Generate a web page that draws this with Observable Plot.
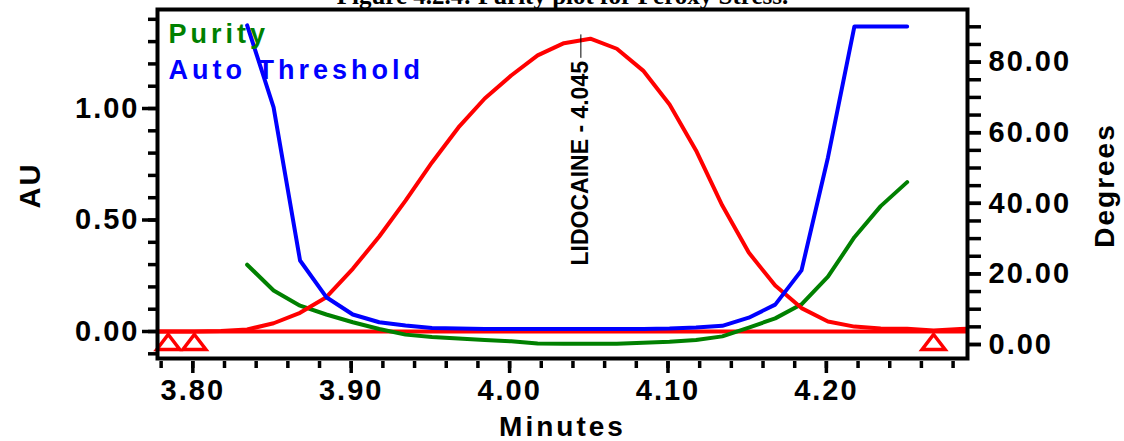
<!DOCTYPE html>
<html><head><meta charset="utf-8">
<script src="https://cdn.jsdelivr.net/npm/d3@7"></script>
<script src="https://cdn.jsdelivr.net/npm/@observablehq/plot@0.6"></script>
<style>
html,body{margin:0;padding:0;background:#fff;overflow:hidden;}
</style></head><body><div id="chart"></div>
<script>
const title = "Figure 4.2.4: Purity plot for Peroxy Stress.";
const xLabel = "Minutes", yLabelLeft = "AU", yLabelRight = "Degrees";
const legendNames = ["Purity", "Auto Threshold"];

// chromatogram (AU, left axis)
const redTimes = [3.7677, 3.7843, 3.8010, 3.8177, 3.8343, 3.8510, 3.8677, 3.8843, 3.9010, 3.9177, 3.9343, 3.9510, 3.9677, 3.9843, 4.0010, 4.0177, 4.0343, 4.0510, 4.0677, 4.0843, 4.1010, 4.1177, 4.1343, 4.1510, 4.1677, 4.1843, 4.2010, 4.2177, 4.2343, 4.2510, 4.2677, 4.2843, 4.3010];
const redAU = [0.000, 0.000, 0.000, 0.002, 0.009, 0.037, 0.084, 0.154, 0.281, 0.426, 0.587, 0.758, 0.915, 1.045, 1.148, 1.238, 1.293, 1.313, 1.268, 1.170, 1.018, 0.812, 0.565, 0.354, 0.206, 0.105, 0.045, 0.022, 0.013, 0.012, 0.005, 0.011, 0.015];

// purity & threshold (Degrees, right axis)
const purityTimes = [3.8343, 3.8510, 3.8677, 3.8843, 3.9010, 3.9177, 3.9343, 3.9510, 3.9677, 3.9843, 4.0010, 4.0177, 4.0343, 4.0510, 4.0677, 4.0843, 4.1010, 4.1177, 4.1343, 4.1510, 4.1677, 4.1843, 4.2010, 4.2177, 4.2343, 4.2510];
const purityDeg = [22.6, 15.3, 11.0, 8.5, 6.3, 4.4, 2.8, 2.1, 1.7, 1.3, 0.9, 0.3, 0.2, 0.2, 0.2, 0.5, 0.8, 1.3, 2.3, 4.8, 7.4, 11.4, 19.2, 30.4, 39.2, 46.0];
const thresholdDeg = [90.4, 67.2, 23.8, 13.4, 8.5, 6.3, 5.4, 4.7, 4.5, 4.4, 4.4, 4.4, 4.4, 4.4, 4.4, 4.4, 4.5, 4.8, 5.3, 7.6, 11.3, 21.0, 53.0, 90.1, 90.1, 90.1];

// peak markers
const markerTimes = [3.7845, 3.8010, 4.2677];
const peakNames = ["LIDOCAINE"];
const peakTimes = [4.045];

// ticks
const xMajor = [3.80, 3.90, 4.00, 4.10, 4.20];
const xMinor = [3.78, 3.80, 3.82, 3.84, 3.86, 3.88, 3.90, 3.92, 3.94, 3.96, 3.98, 4.00, 4.02, 4.04, 4.06, 4.08, 4.10, 4.12, 4.14, 4.16, 4.18, 4.20, 4.22, 4.24, 4.26, 4.28];
const auMajor = [0, 0.5, 1.0];
const auMinor = [-0.1, 0, 0.1, 0.2, 0.3, 0.4, 0.5, 0.6, 0.7, 0.8, 0.9, 1.0, 1.1, 1.2, 1.3, 1.4];
const degMajor = [0, 20, 40, 60, 80];
const degMinor = [0, 5, 10, 15, 20, 25, 30, 35, 40, 45, 50, 55, 60, 65, 70, 75, 80, 85, 90];

// right-axis alignment: degrees -> AU
const degToAU = d => (3.53 * d - 13) / 223;
const auToDeg = a => (a * 223 + 13) / 3.53;

const red = redTimes.map((t, i) => ({t, v: redAU[i]}));
const purity = purityTimes.map((t, i) => ({t, v: degToAU(purityDeg[i])}));
const thresh = purityTimes.map((t, i) => ({t, v: degToAU(thresholdDeg[i])}));
const markerLevel = -0.047;
const markers = markerTimes.map(t => ({t, v: markerLevel}));
const peaks = peakNames.map((n, i) => ({name: n, t: peakTimes[i], top: 1.33, bot: 1.225, lab: 1.213}));

// open, flattened up-triangle (fixed size)
const flatTriangle = {
  draw(context) {
    context.moveTo(0, -7.5);
    context.lineTo(11.5, 7.5);
    context.lineTo(-11.5, 7.5);
    context.closePath();
  }
};

const LW = 4;
const chart = Plot.plot({
  width: 1124, height: 441,
  marginTop: 9, marginBottom: 80, marginLeft: 157, marginRight: 157,
  style: {fontFamily: "'Liberation Sans', Arial, sans-serif", fontWeight: "bold", fontSize: "29px", background: "white", color: "black", overflow: "visible", letterSpacing: "2px"},
  x: {domain: [3.7777, 4.2891]},
  y: {domain: [-0.1345, 1.444]},
  marks: [
    Plot.ruleY([0], {stroke: "#ff0000", strokeWidth: LW}),
    Plot.line(purity, {x: "t", y: "v", stroke: "#008000", strokeWidth: LW}),
    Plot.line(red, {x: "t", y: "v", stroke: "#ff0000", strokeWidth: LW, clip: true}),
    Plot.line(thresh, {x: "t", y: "v", stroke: "#0000ff", strokeWidth: LW}),
    Plot.dot(markers, {x: "t", y: "v", symbol: flatTriangle, r: 8, stroke: "#ff0000", strokeWidth: 3.5, fill: "white"}),
    Plot.ruleX(peaks, {x: "t", y1: "bot", y2: "top", stroke: "black", strokeWidth: 1}),
    Plot.text(peaks, {x: "t", y: "lab", text: d => `${d.name} - ${d.t.toFixed(3)}`, rotate: -90, textAnchor: "end", lineAnchor: "middle", fontSize: 23, fill: "black"}),
    Plot.frame({stroke: "black", strokeWidth: 4, insetBottom: 3}),
    // x axis
    Plot.axisX(xMinor, {tickSize: 7, strokeWidth: 3.5, tickFormat: () => "", label: null}),
    Plot.axisX(xMajor, {tickSize: 12, strokeWidth: 3.5, tickPadding: 6, tickFormat: d3.format(".2f"), label: null, lineAnchor: "top"}),
    // left axis
    Plot.axisY(auMinor, {anchor: "left", tickSize: 9, strokeWidth: 3.5, tickFormat: () => "", label: null}),
    Plot.axisY(auMajor, {anchor: "left", tickSize: 15, strokeWidth: 3.5, tickPadding: 3, tickFormat: d3.format(".2f"), label: null}),
    // right axis
    Plot.axisY(degMinor.map(degToAU), {anchor: "right", tickSize: 13, strokeWidth: 3.5, tickFormat: () => "", label: null}),
    Plot.axisY(degMajor.map(degToAU), {anchor: "right", tickSize: 13, strokeWidth: 3.5, tickPadding: 8, tickFormat: a => auToDeg(a).toFixed(2), label: null}),
    // axis titles
    Plot.text([yLabelLeft], {frameAnchor: "left", dx: -127, rotate: -90, textAnchor: "middle", lineAnchor: "middle", fill: "black"}),
    Plot.text([yLabelRight], {frameAnchor: "right", dx: 138, rotate: -90, textAnchor: "middle", lineAnchor: "middle", fill: "black", fontSize: 28}),
    Plot.text([xLabel], {frameAnchor: "bottom", dy: 74, textAnchor: "middle", lineAnchor: "bottom", fill: "black", fontSize: 28}),
    // legend
    Plot.text([legendNames[0]], {frameAnchor: "top-left", dx: 11, dy: 33, textAnchor: "start", lineAnchor: "bottom", fill: "#008000", fontSize: 27}),
    Plot.text([legendNames[1]], {frameAnchor: "top-left", dx: 11, dy: 69, textAnchor: "start", lineAnchor: "bottom", fill: "#0000ff", fontSize: 27}),
    // title (cut off at top)
    Plot.text([title], {frameAnchor: "top", dy: -6, textAnchor: "middle", lineAnchor: "bottom", fill: "black", fontSize: 25, fontFamily: "'Liberation Serif', 'Times New Roman', serif"})
  ]
});
document.getElementById("chart").appendChild(chart);
const svg = d3.select(chart);
svg.selectAll("text").each(function () {
  const s = this.textContent;
  if (s === title || s.startsWith(peakNames[0])) this.style.letterSpacing = "0px";
  else if (legendNames.includes(s)) this.style.letterSpacing = "4px";
  else if (s === xLabel) this.style.letterSpacing = "3px";
});
svg.selectAll('g[aria-label$="tick"]').attr("stroke-width", 3.5);
svg.selectAll('g[aria-label$="tick"] path').attr("stroke-width", 3.5);
</script></body></html>
